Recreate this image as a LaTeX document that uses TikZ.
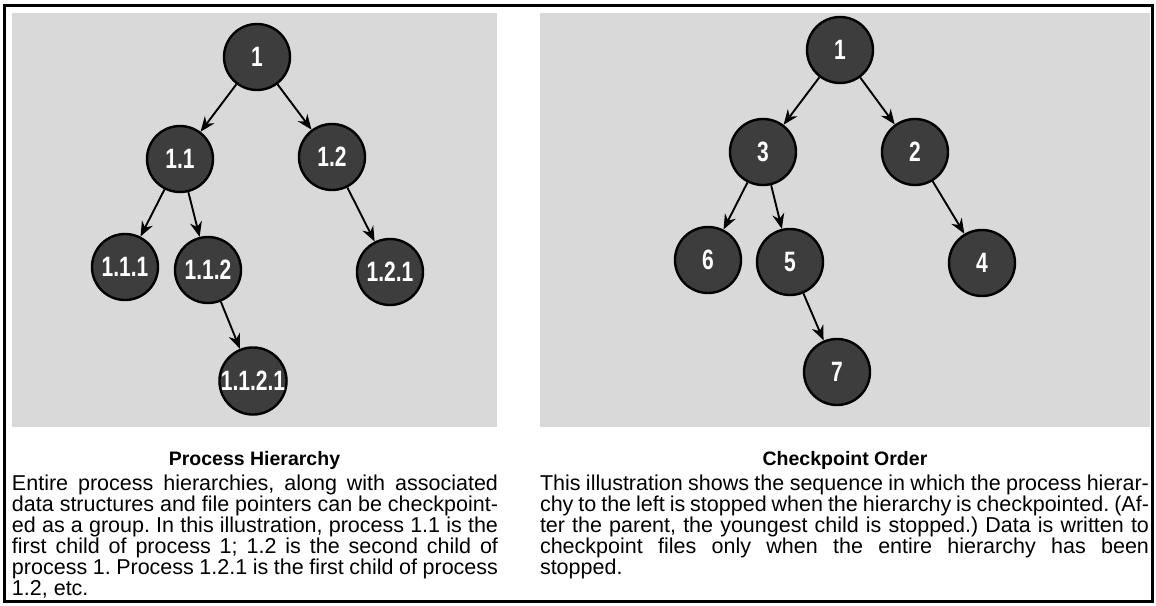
\documentclass[tikz,border=0pt]{standalone}
\usepackage{fontspec}
\setmainfont{Liberation Sans}
\newfontfamily\labelfont{Liberation Sans}[FakeStretch=0.75]
\newcommand\blurbsetup{\frenchspacing\tolerance=9999 \hbadness=10000 \hyphenpenalty=10000 }
\usetikzlibrary{arrows.meta,positioning}

\begin{document}
\begin{tikzpicture}[x=1pt, y=-1pt, >={Stealth[length=15pt,width=12pt]},
	   every node/.style={inner sep=0pt},
	   process/.style={circle, minimum size=66pt, line width=2.4pt, draw=black,
	                   fill=black!76, text=white,
	                   font=\labelfont\bfseries\fontsize{28}{28}\selectfont},
	   panel/.style 2 args={rectangle, fill=black!15, minimum width=#1, minimum height=#2},
	   caption/.style={font=\bfseries\fontsize{19.5}{22}\selectfont},
	   blurb/.style={text width=#1, align=justify,
	                 font=\fontsize{21.5}{21}\selectfont\blurbsetup},
	   link/.style={->, line width=1.9pt}]
	\useasboundingbox (0,0) rectangle (1156,605);
	%% Frame and panels
	\draw[line width=3pt] (4,5) rectangle (1152,601);
	\node [panel={485pt}{414pt}] (hierpanel) at (254.5,220) {};
	\node [panel={610pt}{414pt}] (orderpanel) at (845,220) {};

	%% Process hierarchy
	\node [process] (p1) at (257,57) {1};
	\node [process] (p11) at (180,159) {1.1};
	\node [process] (p12) at (332,157) {1.2};
	\node [process] (p111) at (125,267) {1.1.1};
	\node [process] (p112) at (208,270) {1.1.2};
	\node [process] (p121) at (390,272) {1.2.1};
	\node [process] (p1121) at (253,381) {1.1.2.1};

	%% Checkpoint order
	\node [process] (s1) at (840,50) {1};
	\node [process] (s3) at (763,152) {3};
	\node [process] (s2) at (915,152) {2};
	\node [process] (s6) at (708,260) {6};
	\node [process] (s5) at (790,262) {5};
	\node [process] (s4) at (982,263) {4};
	\node [process] (s7) at (837,372) {7};

	%% Parent to child
	\foreach \from/\to in {p1/p11, p1/p12, p11/p111, p11/p112, p12/p121, p112/p1121,
	                       s1/s3, s1/s2, s3/s6, s3/s5, s2/s4, s5/s7}
		\draw[link] (\from) -- (\to);

	%% Captions
	\node [caption, below=24pt of hierpanel.south] (hiercap) {Process Hierarchy};
	\node [caption, below=24pt of orderpanel.south] (ordercap) {Checkpoint Order};
	\node [blurb=486pt, below=48pt of hierpanel.south west, anchor=north west] (hiertext)
	      {Entire process hierarchies, along with associated\linebreak
	       data structures and file pointers can be checkpoint-\linebreak
	       ed as a group. In this illustration, process 1.1 is the\linebreak
	       first child of process 1; 1.2 is the second child of\linebreak
	       process 1. Process 1.2.1 is the first child of process\linebreak
	       1.2, etc.};
	\node [blurb=609pt, below=48pt of orderpanel.south west, anchor=north west] (ordertext)
	      {This illustration shows the sequence in which the process hierar-\linebreak
	       chy to the left is stopped when the hierarchy is checkpointed. (Af-\linebreak
	       ter the parent, the youngest child is stopped.) Data is written to\linebreak
	       checkpoint files only when the entire hierarchy has been\linebreak
	       stopped.};
\end{tikzpicture}
\end{document}
